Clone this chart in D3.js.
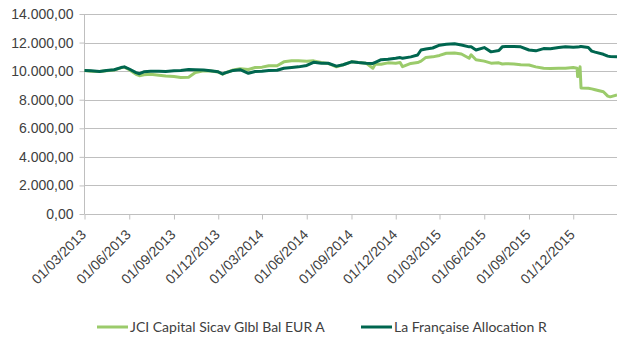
<!DOCTYPE html>
<html>
<head>
<meta charset="utf-8">
<script src="https://cdn.jsdelivr.net/npm/d3@7"></script>
<style>
  html, body { margin: 0; padding: 0; background: #ffffff; }
  svg { display: block; font-family: Lato, "Liberation Sans", sans-serif; }
</style>
</head>
<body>
<svg id="chart" width="617" height="338"></svg>
<script>
// Observation dates (dd/mm/yyyy)
const dates = [
  "01/03/2013","15/03/2013","01/04/2013","15/04/2013","01/05/2013","15/05/2013","22/05/2013",
  "01/06/2013","15/06/2013","22/06/2013","01/07/2013","15/07/2013","01/08/2013","15/08/2013",
  "01/09/2013","15/09/2013","01/10/2013","15/10/2013","01/11/2013","15/11/2013",
  "01/12/2013","10/12/2013","15/12/2013","01/01/2014","15/01/2014","01/02/2014","15/02/2014",
  "01/03/2014","15/03/2014","01/04/2014","15/04/2014","01/05/2014","15/05/2014",
  "01/06/2014","15/06/2014","01/07/2014","15/07/2014","01/08/2014","15/08/2014",
  "01/09/2014","15/09/2014","01/10/2014","15/10/2014","20/10/2014","01/11/2014","15/11/2014",
  "01/12/2014","10/12/2014","15/12/2014","01/01/2015","15/01/2015","22/01/2015","01/02/2015","15/02/2015",
  "01/03/2015","15/03/2015","01/04/2015","15/04/2015","01/05/2015","05/05/2015","15/05/2015",
  "01/06/2015","15/06/2015","01/07/2015","08/07/2015","15/07/2015","01/08/2015","15/08/2015",
  "01/09/2015","15/09/2015","01/10/2015","15/10/2015","01/11/2015","15/11/2015",
  "01/12/2015","09/12/2015","10/12/2015","14/12/2015","15/12/2015","17/12/2015",
  "01/01/2016","08/01/2016","15/01/2016","01/02/2016","10/02/2016","15/02/2016","29/02/2016"
];

// JCI Capital Sicav Glbl Bal EUR A
const jciValues = [
  10050,10000,9970,10030,10080,10230,10280,
  10100,9780,9680,9750,9780,9720,9660,
  9620,9560,9580,9900,10020,10010,
  9940,9780,9870,10080,10170,10120,10250,
  10280,10380,10380,10650,10720,10720,
  10700,10720,10600,10540,10300,10450,
  10650,10600,10560,10200,10500,10480,10580,
  10560,10600,10310,10540,10600,10700,10960,11000,
  11100,11250,11270,11200,10900,11150,10800,
  10700,10560,10580,10500,10520,10500,10450,
  10430,10300,10200,10180,10200,10200,
  10250,10200,9620,9650,10300,8820,
  8800,8760,8700,8560,8250,8200,8330
];

// La Française Allocation R
const lfaValues = [
  10050,10020,9980,10050,10100,10250,10300,
  10150,9900,9820,9950,10000,10000,9980,
  10020,10050,10120,10100,10080,10030,
  9950,9800,9880,10050,10100,9850,9980,
  10000,10050,10060,10200,10250,10300,
  10400,10620,10550,10550,10350,10450,
  10650,10600,10560,10540,10620,10800,10830,
  10900,10950,10900,11000,11130,11480,11550,11620,
  11820,11880,11920,11830,11700,11700,11480,
  11650,11350,11450,11700,11720,11720,11700,
  11480,11420,11580,11560,11650,11700,
  11680,11690,11690,11700,11720,11720,
  11650,11400,11330,11180,11050,11020,11000
];

const series = [
  { name: "JCI Capital Sicav Glbl Bal EUR A", values: jciValues, color: "#9bcb6b" },
  { name: "La Française Allocation R", values: lfaValues, color: "#00664f" }
];

const yTicks = [0, 2000, 4000, 6000, 8000, 10000, 12000, 14000];
const xTickLabels = [
  "01/03/2013","01/06/2013","01/09/2013","01/12/2013",
  "01/03/2014","01/06/2014","01/09/2014","01/12/2014",
  "01/03/2015","01/06/2015","01/09/2015","01/12/2015"
];

const parse = d3.timeParse("%d/%m/%Y");
const fmtNum = d3.formatLocale({ decimal: ",", thousands: ".", grouping: [3], currency: ["", "€"] }).format(",.2f");

const svg = d3.select("#chart");
const plotLeft = 84.5, plotRight = 617.5, plotTop = 14, plotBottom = 214;

const x = d3.scaleTime()
  .domain([parse("01/03/2013"), parse("01/03/2016")])
  .range([plotLeft, plotRight]);
const y = d3.scaleLinear().domain([0, 14000]).range([plotBottom, plotTop]);

// horizontal gridlines
svg.append("g")
  .selectAll("line")
  .data(yTicks.filter(v => v > 0))
  .join("line")
  .attr("x1", plotLeft).attr("x2", 617)
  .attr("y1", d => Math.round(y(d)) + 0.5).attr("y2", d => Math.round(y(d)) + 0.5)
  .attr("stroke", "#bfbfbf").attr("stroke-width", 1);

// y axis
const yAxis = svg.append("g")
  .attr("transform", `translate(${Math.round(plotLeft) - 0.5},0)`)
  .call(d3.axisLeft(y).tickValues(yTicks).tickFormat(fmtNum).tickSize(5).tickPadding(6));
yAxis.select(".domain").attr("stroke", "#bfbfbf").attr("d", `M0,${plotTop}V${plotBottom}`);
yAxis.selectAll(".tick line").attr("stroke", "#bfbfbf");
yAxis.selectAll(".tick text")
  .attr("fill", "#404040").attr("font-size", "14px");

// x axis
const xAxis = svg.append("g")
  .attr("transform", `translate(0,${Math.round(plotBottom) + 0.5})`)
  .call(d3.axisBottom(x).tickValues(xTickLabels.map(parse)).tickSize(5)
    .tickFormat(d3.timeFormat("%d/%m/%Y")));
xAxis.select(".domain").attr("stroke", "#bfbfbf").attr("d", `M${plotLeft},0H617`);
xAxis.selectAll(".tick line").attr("stroke", "#bfbfbf");
xAxis.selectAll(".tick text")
  .attr("fill", "#404040").attr("font-size", "14px")
  .attr("text-anchor", "end")
  .attr("dy", null).attr("y", 0)
  .attr("transform", "translate(2,21) rotate(-45)");

// series lines
const line = d3.line()
  .x((d, i) => x(parse(dates[i])))
  .y(d => y(d));

svg.append("g")
  .selectAll("path")
  .data(series)
  .join("path")
  .attr("d", s => line(s.values))
  .attr("fill", "none")
  .attr("stroke", s => s.color)
  .attr("stroke-width", 3)
  .attr("stroke-linejoin", "round");

// legend
const legendItems = [
  { s: series[0], x0: 97 },
  { s: series[1], x0: 361 }
];
const lg = svg.append("g");
legendItems.forEach(it => {
  lg.append("line")
    .attr("x1", it.x0).attr("x2", it.x0 + 31)
    .attr("y1", 327).attr("y2", 327)
    .attr("stroke", it.s.color).attr("stroke-width", 3);
  lg.append("text")
    .attr("x", it.x0 + 33).attr("y", 332)
    .attr("font-size", "14px").attr("fill", "#404040")
    .text(it.s.name);
});
</script>
</body>
</html>
